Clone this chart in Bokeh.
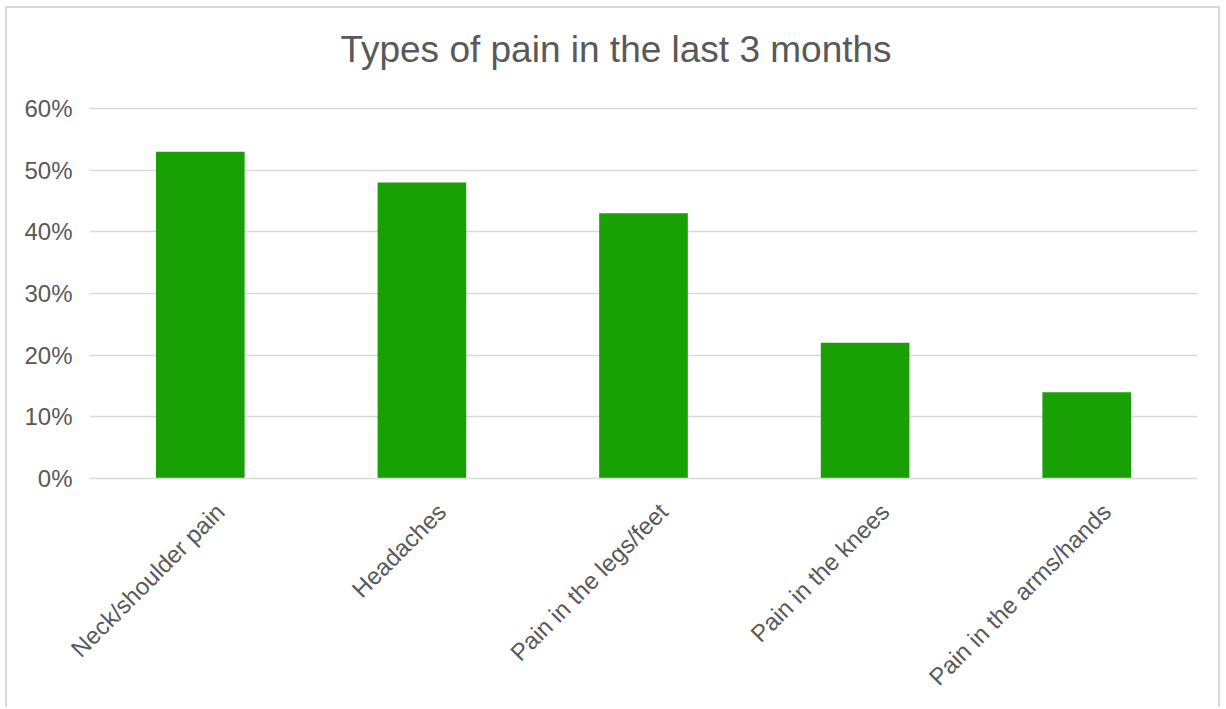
import math
from bokeh.plotting import figure
from bokeh.models import (ColumnDataSource, Range1d, FixedTicker,
                          NumeralTickFormatter, LinearAxis)
from bokeh.embed import file_html
from bokeh.resources import INLINE

categories = ["Neck/shoulder pain", "Headaches", "Pain in the legs/feet", "Pain in the knees", "Pain in the arms/hands"]
values = [0.53, 0.48, 0.43, 0.22, 0.14]
y_ticks = [0.0, 0.1, 0.2, 0.3, 0.4, 0.5, 0.6]
title_text = "Types of pain in the last 3 months"

TEXT = "#595959"
GRID = "#d9d9d9"
BAR = "#19A005"
FONT = "Liberation Sans"

n = len(categories)
cat_pos = [i + 0.5 for i in range(n)]          # slot centres of the categories
source = ColumnDataSource(data=dict(x=cat_pos, val=values, cat=categories))

p = figure(
    x_range=Range1d(0, n),
    y_range=Range1d(0, 0.6 * 372 / 370),
    width=1215, height=701,
    output_backend="svg", toolbar_location=None,
    x_axis_location=None,
    min_border_left=82, min_border_right=25, min_border_top=98, min_border_bottom=231,
)
p.styles = {
    "border-top": "2px solid #d9d9d9",
    "border-left": "2px solid #d9d9d9",
    "border-right": "2px solid #d9d9d9",
    "margin-left": "5px",
    "margin-top": "6px",
}

p.vbar(x="x", top="val", width=0.4, source=source, color=BAR, line_color=None)

p.outline_line_color = None
p.background_fill_color = "white"
p.border_fill_color = "white"

p.xgrid.grid_line_color = None
p.ygrid.grid_line_color = GRID
p.ygrid.grid_line_width = 1.5
p.ygrid.ticker = FixedTicker(ticks=y_ticks)

p.yaxis.ticker = FixedTicker(ticks=y_ticks)
p.yaxis.formatter = NumeralTickFormatter(format="0%")
p.yaxis.axis_line_color = None
p.yaxis.major_tick_line_color = None
p.yaxis.minor_tick_line_color = None
p.yaxis.major_label_text_font = FONT
p.yaxis.major_label_text_font_size = "24px"
p.yaxis.major_label_text_color = TEXT
p.yaxis.major_label_standoff = 11

# category axis: labels anchored a little right of each bar centre (rotated 45°)
label_shift = 0.09
lab_pos = [c + label_shift for c in cat_pos]
xax = LinearAxis(ticker=FixedTicker(ticks=lab_pos),
                 major_label_overrides={pos: c for pos, c in zip(lab_pos, categories)})
xax.axis_line_color = GRID
xax.axis_line_width = 1.5
xax.major_tick_line_color = None
xax.minor_tick_line_color = None
xax.major_label_orientation = math.pi / 4
xax.major_label_text_font = FONT
xax.major_label_text_font_size = "24px"
xax.major_label_text_color = TEXT
xax.major_label_standoff = 23
p.add_layout(xax, "below")

# chart title, drawn as the single label of a bare axis above the frame
title_pos = 2.376
tax = LinearAxis(ticker=FixedTicker(ticks=[title_pos]),
                 major_label_overrides={title_pos: title_text})
tax.axis_line_color = None
tax.major_tick_line_color = None
tax.minor_tick_line_color = None
tax.major_tick_out = 0
tax.major_label_text_font = FONT
tax.major_label_text_font_size = "37px"
tax.major_label_text_color = TEXT
tax.major_label_standoff = 37
p.add_layout(tax, "above")

open("out.html", "w").write(file_html(p, INLINE))
